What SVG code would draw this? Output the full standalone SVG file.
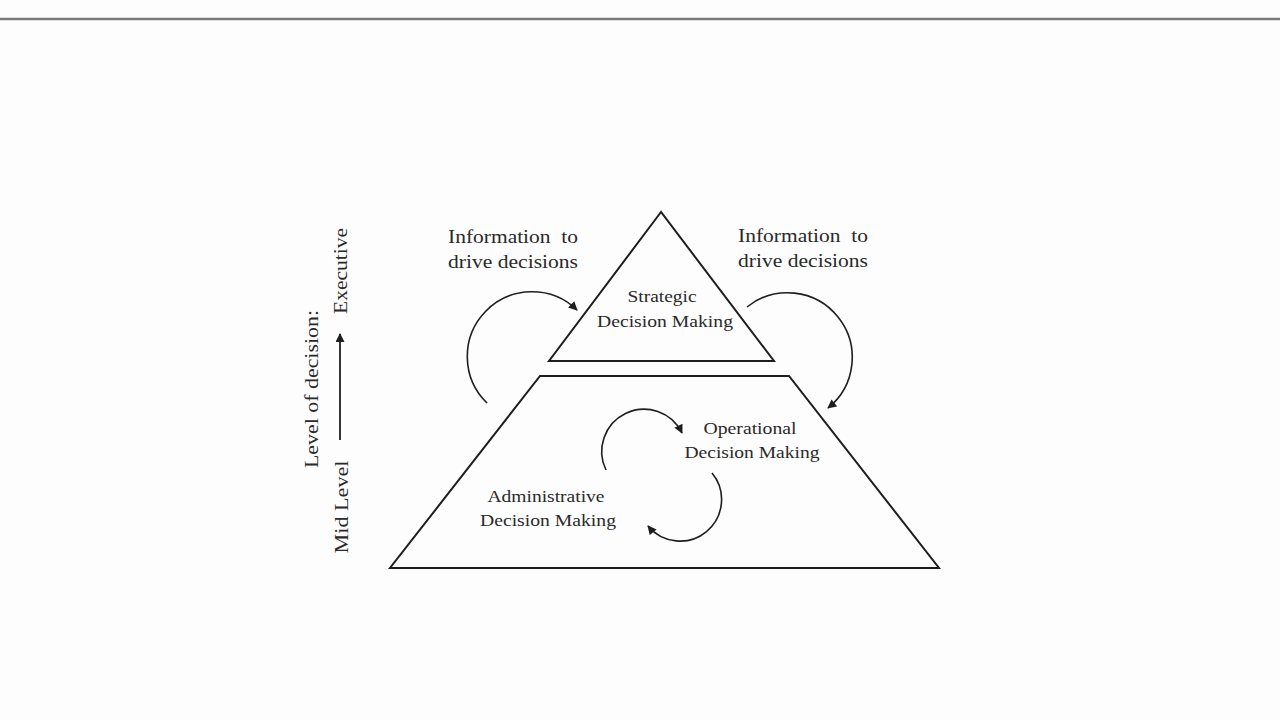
<svg xmlns="http://www.w3.org/2000/svg" width="1280" height="720" viewBox="0 0 1280 720">
<defs>
<style>
.t{font-family:"Liberation Serif","Times New Roman",serif;fill:#2a2a2a;}
.big{font-size:19px;}
.mid{font-size:17px;}
.shape{fill:none;stroke:#1e1e1e;stroke-width:2;stroke-linejoin:miter;}
.arc{fill:none;stroke:#1e1e1e;stroke-width:1.6;}
</style>
<marker id="ah2" viewBox="0 0 10 10" refX="9" refY="5" markerWidth="10" markerHeight="9" markerUnits="userSpaceOnUse" orient="auto">
<path d="M0,0 L10,5 L0,10 z" fill="#1e1e1e"/>
</marker>
</defs>
<rect x="0" y="0" width="1280" height="720" fill="#fdfdfd"/>
<line x1="0" y1="19" x2="1280" y2="19" stroke="#7a7a7a" stroke-width="2.5"/>

<g id="strategic">
<polygon class="shape" points="661,212 549,361 774,361"/>
<text class="t mid" x="662" y="302" text-anchor="middle" textLength="69" lengthAdjust="spacingAndGlyphs">Strategic</text>
<text class="t mid" x="665" y="327" text-anchor="middle" textLength="136" lengthAdjust="spacingAndGlyphs">Decision Making</text>
</g>

<g id="base">
<polygon class="shape" points="540,376 789,376 939,568 390,568"/>
</g>

<g id="operational">
<text class="t mid" x="750" y="434" text-anchor="middle" textLength="93" lengthAdjust="spacingAndGlyphs">Operational</text>
<text class="t mid" x="752" y="458" text-anchor="middle" textLength="135" lengthAdjust="spacingAndGlyphs">Decision Making</text>
</g>

<g id="administrative">
<text class="t mid" x="546" y="502" text-anchor="middle" textLength="117" lengthAdjust="spacingAndGlyphs">Administrative</text>
<text class="t mid" x="548" y="526" text-anchor="middle" textLength="136" lengthAdjust="spacingAndGlyphs">Decision Making</text>
</g>

<g id="info-left">
<text class="t big" x="513" y="243" text-anchor="middle" textLength="130" lengthAdjust="spacingAndGlyphs" xml:space="preserve">Information  to</text>
<text class="t big" x="513" y="268" text-anchor="middle" textLength="130" lengthAdjust="spacingAndGlyphs">drive decisions</text>
</g>

<g id="info-right">
<text class="t big" x="803" y="242" text-anchor="middle" textLength="130" lengthAdjust="spacingAndGlyphs" xml:space="preserve">Information  to</text>
<text class="t big" x="803" y="267" text-anchor="middle" textLength="130" lengthAdjust="spacingAndGlyphs">drive decisions</text>
</g>

<g id="level-axis">
<text class="t big" transform="translate(318,389) rotate(-90)" text-anchor="middle" textLength="158" lengthAdjust="spacingAndGlyphs">Level of decision:</text>
<text class="t big" transform="translate(348,507) rotate(-90)" text-anchor="middle" textLength="93" lengthAdjust="spacingAndGlyphs">Mid Level</text>
<text class="t big" transform="translate(347,271) rotate(-90)" text-anchor="middle" textLength="86" lengthAdjust="spacingAndGlyphs">Executive</text>
</g>

<g id="connectors">
<line x1="340" y1="440" x2="340" y2="334" stroke="#1e1e1e" stroke-width="1.8" marker-end="url(#ah2)"/>
<path class="arc" d="M487,403 A57,57 0 1 1 577,310" marker-end="url(#ah2)"/>
<path class="arc" d="M747,307 A59,59 0 1 1 828,408" marker-end="url(#ah2)"/>
<path class="arc" d="M606,470 A38,38 0 1 1 682,433" marker-end="url(#ah2)"/>
<path class="arc" d="M712,473 A38,38 0 1 1 648,526" marker-end="url(#ah2)"/>
</g>
</svg>
